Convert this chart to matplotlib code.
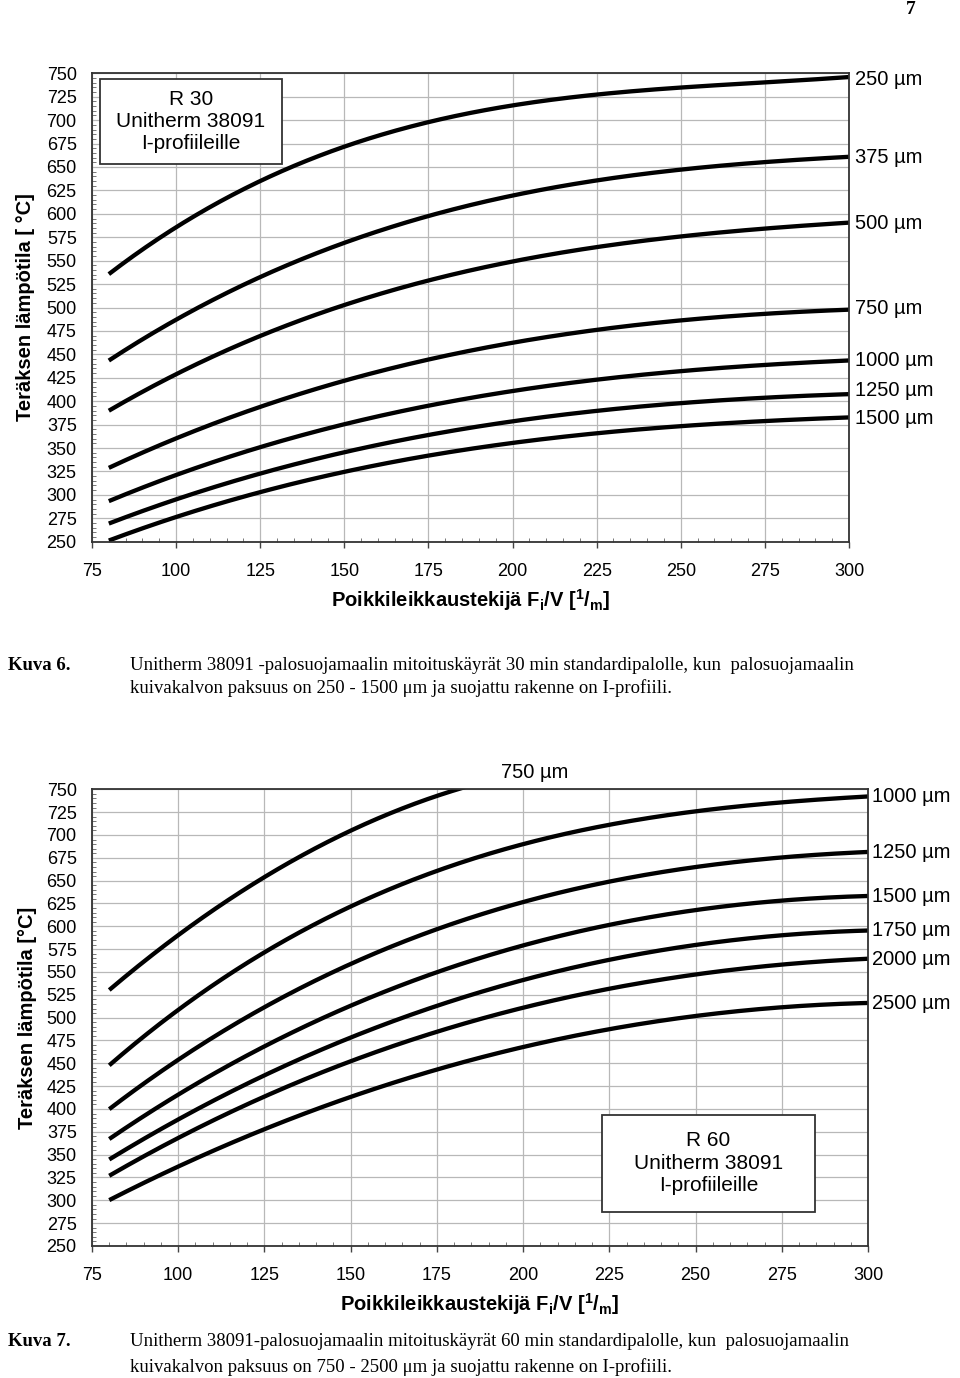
import numpy as np
import matplotlib
matplotlib.use("Agg")
import matplotlib.pyplot as plt
from matplotlib.patches import Rectangle
from matplotlib.ticker import MultipleLocator

plt.rcParams['font.family'] = ['Liberation Sans', 'DejaVu Sans']
plt.rcParams['mathtext.fontset'] = 'custom'
plt.rcParams['mathtext.rm'] = 'Liberation Sans:bold'
plt.rcParams['mathtext.it'] = 'Liberation Sans:bold'
plt.rcParams['mathtext.bf'] = 'Liberation Sans:bold'

# ---------------- data ----------------
x_common = [80, 100, 125, 150, 175, 200, 225, 250, 275, 300]

# Kuva 6: R 30
r30_labels = ["250 µm", "375 µm", "500 µm", "750 µm", "1000 µm", "1250 µm", "1500 µm"]
r30_250 = [535, 585, 638, 672, 696, 714, 727, 737, 741, 745]
r30_375 = [443, 487, 533, 570, 598, 617, 635, 649, 656, 660]
r30_500 = [390, 428, 470, 504, 528, 549, 563, 577, 585, 590]
r30_750 = [328, 361, 395, 422, 443, 462, 476, 487, 494, 497]
r30_1000 = [293, 321, 352, 376, 394, 410, 423, 433, 439, 443]
r30_1250 = [269, 295, 324, 346, 363, 377, 390, 399, 404, 407]
r30_1500 = [251, 277, 302, 325, 343, 355, 364, 374, 380, 382]

# Kuva 7: R 60
r60_labels = ["750 µm", "1000 µm", "1250 µm", "1500 µm", "1750 µm", "2000 µm", "2500 µm"]
r60_750_x = [80, 100, 125, 150, 175, 200]
r60_750 = [528, 593, 656, 703, 740, 770]
r60_1000 = [448, 508, 572, 621, 662, 689, 711, 726, 736, 742]
r60_1250 = [400, 453, 512, 561, 594, 627, 649, 665, 676, 681]
r60_1500 = [368, 414, 469, 514, 549, 580, 601, 617, 629, 633]
r60_1750 = [344, 390, 436, 479, 512, 541, 564, 579, 591, 595]
r60_2000 = [326, 370, 413, 452, 485, 510, 532, 547, 559, 564]
r60_2500 = [300, 338, 377, 412, 445, 468, 487, 501, 512, 516]

x_ticks = [75, 100, 125, 150, 175, 200, 225, 250, 275, 300]
y_ticks = list(range(250, 751, 25))


def smooth_curve(x, y, xs, deg=3):
    """Least-squares smooth curve through the read points (removes reading jitter)."""
    x = np.asarray(x, float); y = np.asarray(y, float)
    p = np.polyfit(x, y, deg)
    return np.polyval(p, xs)


fig = plt.figure(figsize=(9.6, 13.78), dpi=100)
W, H = 960.0, 1378.0

ax1 = fig.add_axes([92 / W, 1 - 541.7 / H, 757 / W, 468.4 / H])
ax2 = fig.add_axes([92 / W, 1 - 1246 / H, 776 / W, 456.7 / H])


def style(ax):
    ax.set_xlim(75, 300)
    ax.set_ylim(250, 750)
    ax.set_xticks(x_ticks)
    ax.set_yticks(y_ticks)
    ax.set_xticklabels([str(v) for v in x_ticks])
    ax.set_yticklabels([str(v) for v in y_ticks])
    ax.xaxis.set_minor_locator(MultipleLocator(5))
    ax.yaxis.set_minor_locator(MultipleLocator(5))
    ax.grid(True, which='major', color='#b8b8b8', lw=0.9)
    ax.set_axisbelow(True)
    ax.tick_params(axis='x', which='major', direction='out', length=4, width=1,
                   color='#444444', labelsize=13, pad=11)
    ax.tick_params(axis='y', which='major', direction='out', length=0,
                   labelsize=13, pad=11)
    ax.tick_params(which='minor', direction='in', length=3, width=0.7, color='#777777')
    for s in ax.spines.values():
        s.set_color('#333333')
        s.set_linewidth(1.3)


style(ax1)
style(ax2)

xs = np.linspace(80, 300, 300)
r30_series = [r30_250, r30_375, r30_500, r30_750, r30_1000, r30_1250, r30_1500]
r30_dy = [-1, 0, 0, 1, 0, 3, 0]
for vals, lab, dy in zip(r30_series, r30_labels, r30_dy):
    ax1.plot(xs, smooth_curve(x_common, vals, xs), color='black', lw=3.1,
             solid_capstyle='butt')
    ax1.annotate(lab, xy=(300, vals[-1]), xytext=(4, dy), textcoords='offset points',
                 ha='left', va='center', fontsize=14.5, annotation_clip=False)

# R 60
xs750 = np.linspace(80, 200, 200)
ax2.plot(xs750, smooth_curve(r60_750_x, r60_750, xs750, deg=2), color='black', lw=3.1,
         solid_capstyle='butt')
ax2.annotate(r60_labels[0], xy=(203.4, 750), xytext=(0, 12), textcoords='offset points',
             ha='center', va='center', fontsize=14.5, annotation_clip=False)
r60_series = [r60_1000, r60_1250, r60_1500, r60_1750, r60_2000, r60_2500]
for vals, lab in zip(r60_series, r60_labels[1:]):
    ax2.plot(xs, smooth_curve(x_common, vals, xs), color='black', lw=3.1,
             solid_capstyle='butt')
    ax2.annotate(lab, xy=(300, vals[-1]), xytext=(3, 0), textcoords='offset points',
                 ha='left', va='center', fontsize=14.5, annotation_clip=False)

# Text boxes
ax1.add_patch(Rectangle((0.0106, 0.8057), 0.2400, 0.1821, transform=ax1.transAxes,
                        fill=True, facecolor='white', edgecolor='#333333', lw=1.3, zorder=3))
ax1.text(0.1304, 0.8967, "R 30\nUnitherm 38091\nI-profiileille", transform=ax1.transAxes,
         ha='center', va='center', fontsize=15, linespacing=1.22, zorder=4)

ax2.add_patch(Rectangle((0.6568, 0.0751), 0.2749, 0.2117, transform=ax2.transAxes,
                        fill=True, facecolor='white', edgecolor='#333333', lw=1.3, zorder=3))
ax2.text(0.7943, 0.1817, "R 60\nUnitherm 38091\nI-profiileille", transform=ax2.transAxes,
         ha='center', va='center', fontsize=15, linespacing=1.22, zorder=4)

# Axis titles
xlab = "Poikkileikkaustekijä F$_\\mathrm{i}$/V [$^\\mathrm{1}$/$_\\mathrm{m}$]"
fig.text(470.5 / W, 1 - 600 / H, xlab, ha='center', va='center', fontsize=14.5,
         fontweight='bold')
fig.text(480 / W, 1 - 1304 / H, xlab, ha='center', va='center', fontsize=14.5,
         fontweight='bold')
fig.text(26 / W, 1 - 307.5 / H, "Teräksen lämpötila [ °C]", rotation=90, ha='center',
         va='center', fontsize=14.5, fontweight='bold')
fig.text(28 / W, 1 - 1017.7 / H, "Teräksen lämpötila [°C]", rotation=90, ha='center',
         va='center', fontsize=14.5, fontweight='bold')

# Captions
serif = ['Liberation Serif', 'DejaVu Serif']
fig.text(911 / W, 1 - 10 / H, "7", ha='center', va='center', fontsize=14,
         fontweight='bold', family=serif)
fig.text(8 / W, 1 - 665 / H, "Kuva 6.", ha='left', va='center', fontsize=13.5,
         fontweight='bold', family=serif)
fig.text(130 / W, 1 - 665 / H,
         "Unitherm 38091 -palosuojamaalin mitoituskäyrät 30 min standardipalolle, kun  palosuojamaalin",
         ha='left', va='center', fontsize=13.5, family=serif)
fig.text(130 / W, 1 - 688 / H,
         "kuivakalvon paksuus on 250 - 1500 μm ja suojattu rakenne on I-profiili.",
         ha='left', va='center', fontsize=13.5, family=serif)
fig.text(8 / W, 1 - 1341.7 / H, "Kuva 7.", ha='left', va='center', fontsize=13.5,
         fontweight='bold', family=serif)
fig.text(130 / W, 1 - 1341.7 / H,
         "Unitherm 38091-palosuojamaalin mitoituskäyrät 60 min standardipalolle, kun  palosuojamaalin",
         ha='left', va='center', fontsize=13.5, family=serif)
fig.text(130 / W, 1 - 1366.7 / H,
         "kuivakalvon paksuus on 750 - 2500 μm ja suojattu rakenne on I-profiili.",
         ha='left', va='center', fontsize=13.5, family=serif)

fig.savefig("out.png", dpi=100)
